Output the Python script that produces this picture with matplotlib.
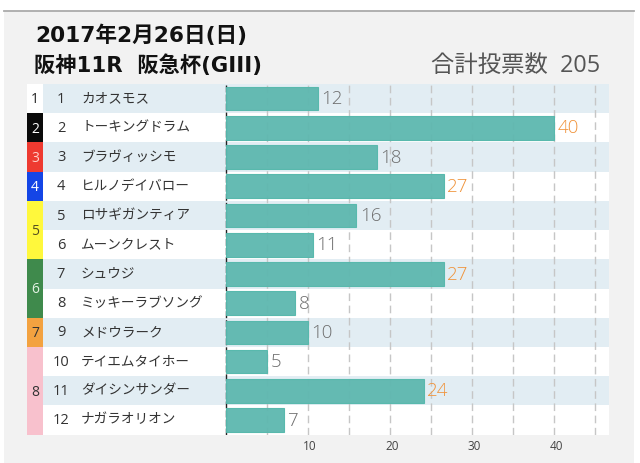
import matplotlib
matplotlib.use('Agg')
import matplotlib.pyplot as plt
from matplotlib.patches import Rectangle
from matplotlib.transforms import ScaledTranslation

plt.rcParams['font.family'] = ['Open Sans', 'Noto Sans CJK JP', 'DejaVu Sans']

title1 = '2017年2月26日(日)'
title2 = '阪神11R  阪急杯(GIII)'
total_label = '合計投票数  205'

horse_no = [1, 2, 3, 4, 5, 6, 7, 8, 9, 10, 11, 12]
names = ['カオスモス', 'トーキングドラム', 'ブラヴィッシモ', 'ヒルノデイバロー',
         'ロサギガンティア', 'ムーンクレスト', 'シュウジ', 'ミッキーラブソング',
         'メドウラーク', 'テイエムタイホー', 'ダイシンサンダー', 'ナガラオリオン']
votes = [12, 40, 18, 27, 16, 11, 27, 8, 10, 5, 24, 7]
# the drawn bars don't quite agree with their labels, these are read off the axis
bar_lengths = [11.2, 40, 18.45, 26.6, 15.9, 10.6, 26.6, 8.45, 10, 5, 24.1, 7.05]

# waku number, first row, number of rows
waku = [1, 2, 3, 4, 5, 6, 7, 8]
waku_start = [0, 1, 2, 3, 4, 6, 8, 9]
waku_rows = [1, 1, 1, 1, 2, 2, 1, 3]
waku_colors = ['#ffffff', '#0a0a0a', '#ee3a30', '#1445e6', '#fff83c', '#3f8a4c', '#f3a240', '#f8c1cd']
waku_text = ['#222222', '#ffffff', '#ffd0c8', '#ffffff', '#554f20', '#e4f2e4', '#333333', '#333333']

W, H = 640, 463
px_per_vote = 8.2
x0_px, left_px, right_px = 226, 27, 609
top_px, bottom_px = 84, 434.7

fig = plt.figure(figsize=(W / 100, H / 100), dpi=100, facecolor='white')

# gray panel behind everything
fig.patches.append(Rectangle((4 / W, 0), 630 / W, 1 - 11 / H, transform=fig.transFigure,
                             facecolor='#f2f2f2', edgecolor='none', zorder=-2))
fig.lines.append(plt.Line2D([4 / W, 634 / W], [1 - 10.5 / H, 1 - 10.5 / H], transform=fig.transFigure,
                            color='#aaaaaa', lw=1.3, zorder=-1))

ax = fig.add_axes([left_px / W, 1 - bottom_px / H, (right_px - left_px) / W, (bottom_px - top_px) / H])
ax.patch.set_visible(False)
ax.set_xlim((left_px - x0_px) / px_per_vote, (right_px - x0_px) / px_per_vote)
ax.set_ylim(12, 0)
for s in ax.spines.values():
    s.set_visible(False)
ax.set_yticks([])


def vx(px):
    return (px - x0_px) / px_per_vote


# row stripes
for i in range(12):
    ax.axhspan(i, i + 1, color='#e2edf3' if i % 2 == 0 else '#ffffff', lw=0, zorder=0)

# gridlines
for v in range(5, 50, 5):
    ax.axvline(v, color='#c6c6c6', lw=1.0, ls=(0, (5.5, 3.3)), zorder=1)
ax.axvline(0, color='#222222', lw=1.0, ls=(0, (5, 1.5)), zorder=1)

# bars
ax.barh([i + 0.5 for i in range(12)], bar_lengths, height=0.81, color='#5fb8b0', alpha=0.96,
        edgecolor='#55b8ac', lw=0.8, zorder=2)

for i, (v, b) in enumerate(zip(votes, bar_lengths)):
    c = '#f0933a' if v >= 24 else '#6e6e6e'
    ax.text(b + 0.4, i + 0.52, str(v), color=c, fontsize=13.5, fontweight='light',
            va='center', ha='left', zorder=4)

# waku column
for w, st, n, col, tc in zip(waku, waku_start, waku_rows, waku_colors, waku_text):
    ax.add_patch(Rectangle((vx(27), st), 16 / px_per_vote, n, facecolor=col, edgecolor='none', zorder=3))
    ax.text(vx(35), st + n / 2 + 0.04, str(w), color=tc, fontsize=10, ha='center', va='center', zorder=4)

# horse number and name
for i, (no, name) in enumerate(zip(horse_no, names)):
    ax.text(vx(61), i + 0.52, str(no), color='#333333', fontsize=10.5, ha='center', va='center', zorder=4)
    ax.text(vx(81), i + 0.5, name, color='#333333', fontsize=9.8, ha='left', va='center', zorder=4)

ax.set_xticks([10, 20, 30, 40])
ax.tick_params(axis='x', length=0, pad=3.5, labelsize=8.5, labelcolor='#444444')
for label in ax.get_xticklabels():
    label.set_transform(label.get_transform() + ScaledTranslation(2 / 100, 0, fig.dpi_scale_trans))

title_font = ['DejaVu Sans', 'Noto Sans CJK JP']
fig.text(35 / W, 1 - 35 / H, title1, fontsize=15.6, fontweight='bold', color='#111111',
         family=title_font, va='center', ha='left')
fig.text(34 / W, 1 - 65 / H, title2, fontsize=15.3, fontweight='bold', color='#111111',
         family=title_font, va='center', ha='left')
fig.text(600 / W, 1 - 66 / H, total_label, fontsize=16.8, color='#555555', va='center', ha='right')

fig.savefig('out.png', dpi=100, facecolor=fig.get_facecolor())
